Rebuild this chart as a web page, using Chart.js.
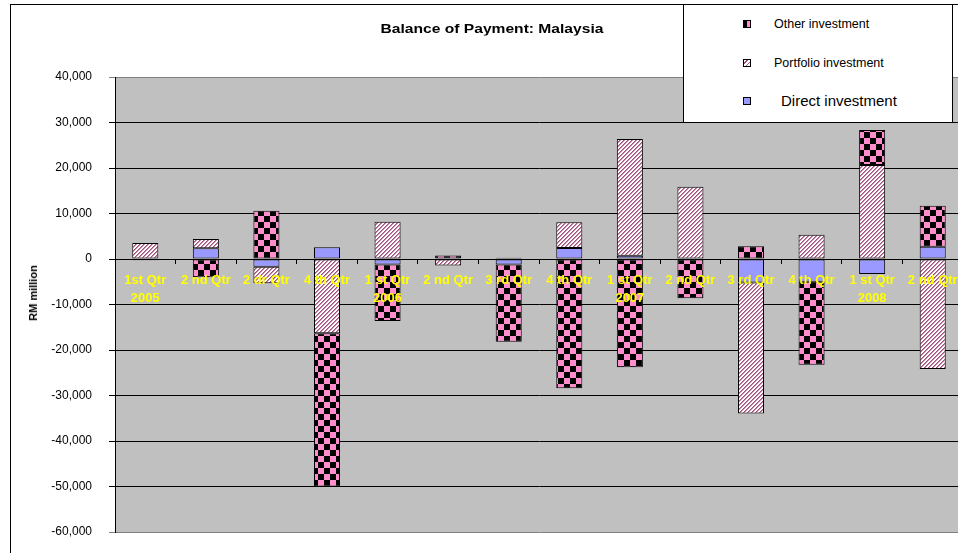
<!DOCTYPE html>
<html>
<head>
<meta charset="utf-8">
<script src="https://cdn.jsdelivr.net/npm/chart.js@4.4.1/dist/chart.umd.min.js"></script>
<style>
  html, body { margin: 0; padding: 0; background: #fff; overflow: hidden; }
  #wrap { position: relative; width: 958px; height: 553px; overflow: hidden;
          font-family: 'Liberation Sans', Arial, sans-serif; color: #000; }
  #frame { position: absolute; left: 10px; top: 4px; width: 1200px; height: 800px;
           border-left: 1px solid #000; border-top: 1px solid #000; }
  #bop { position: absolute; left: 0; top: 0; }
  #title { position: absolute; left: 492px; top: 28px; white-space: nowrap;
           transform: translate(-50%, -50%) scaleX(1.2); font-weight: bold; font-size: 13px; }
  #ytitle { position: absolute; left: 33px; top: 293px; white-space: nowrap;
            transform: translate(-50%, -50%) rotate(-90deg); font-weight: bold; font-size: 11px; }
  #legend { position: absolute; left: 683px; top: 4px; width: 270px; height: 119px;
            box-sizing: border-box; border: 1px solid #000; background: #fff; }
  .sw { position: absolute; left: 59px; width: 8px; height: 8px; box-sizing: border-box; border: 1px solid #000; }
  .lt { position: absolute; white-space: nowrap; }
</style>
</head>
<body>
<div id="wrap">
  <div id="frame"></div>
  <canvas id="bop" width="970" height="553"></canvas>
  <div id="title">Balance of Payment: Malaysia</div>
  <div id="ytitle">RM million</div>
  <div id="legend">
    <div class="sw" style="top:15px;background:linear-gradient(to right,#000 50%,#ff8fcc 50%)"></div>
    <div class="lt" style="left:90px;top:11px;font-size:12.5px;line-height:16px">Other investment</div>
    <div class="sw" style="top:54px;background:repeating-linear-gradient(135deg,#fff 0 2px,#a0507a 2px 3px)"></div>
    <div class="lt" style="left:90px;top:50px;font-size:12.5px;line-height:16px">Portfolio investment</div>
    <div class="sw" style="top:92px;background:#9999ff"></div>
    <div class="lt" style="left:97px;top:87px;font-size:15px;line-height:18px">Direct investment</div>
  </div>
</div>
<script>
/* ── Dados (RM million) ── */
const quarters = ['1st Qtr', '2 nd Qtr', '2 dr Qtr', '4 th Qtr', '1 st Qtr', '2 nd Qtr', '3 rd Qtr',
                  '4 th Qtr', '1 st Qtr', '2 nd Qtr', '3 rd Qtr', '4 th Qtr', '1 st Qtr', '2 nd Qtr'];
const years    = ['2005', '', '', '', '2006', '', '', '', '2007', '', '', '', '2008', ''];

const directInv    = [0, 2350, -1700, 2600, -1200, 0, -1200, 2400, 730, 0, -5150, -5000, -3300, 2700];
const portfolioInv = [3500, 2050, -3650, -16300, 8200, -1450, 300, 5650, 25650, 15900, -28800, 5350, 20650, -24200];
const otherInv     = [-300, -4000, 10600, -33700, -12450, 750, -17000, -28400, -23800, -8650, 2800, -18250, 7700, 9000];

const yMin = -60000, yMax = 40000, yStep = 10000;

const labels = quarters.map((q, i) => years[i] ? [q, years[i]] : q);

/* ── Padrões ── */
const canvas = document.getElementById('bop');
const ctx = canvas.getContext('2d');

function checkerPattern() {
  const t = document.createElement('canvas');
  t.width = t.height = 12;
  const g = t.getContext('2d');
  g.fillStyle = '#ff8fcc';
  g.fillRect(0, 0, 12, 12);
  g.fillStyle = '#000';
  g.fillRect(0, 0, 6, 6);
  g.fillRect(6, 6, 6, 6);
  return ctx.createPattern(t, 'repeat');
}

function hatchPattern() {
  const t = document.createElement('canvas');
  t.width = t.height = 4;
  const g = t.getContext('2d');
  g.fillStyle = '#fff';
  g.fillRect(0, 0, 4, 4);
  for (let y = 0; y < 4; y++) {
    g.fillStyle = '#a0507a';
    g.fillRect(3 - y, y, 1, 1);
    g.fillStyle = '#c88aaa';
    g.fillRect((4 - y) % 4, y, 1, 1);
  }
  return ctx.createPattern(t, 'repeat');
}

// fundo cinza da área do gráfico
const plotBg = {
  id: 'plotBg',
  beforeDraw(chart) {
    const { ctx, chartArea: a } = chart;
    ctx.save();
    ctx.fillStyle = '#c0c0c0';
    ctx.fillRect(a.left, a.top, a.right - a.left, a.bottom - a.top);
    ctx.restore();
  }
};

Chart.defaults.font.family = "'Liberation Sans', Arial, sans-serif";

const barStyle = {
  borderColor: '#000',
  borderWidth: 1,
  borderSkipped: false,
  barPercentage: 0.43,
  categoryPercentage: 1,
};

new Chart(canvas, {
  type: 'bar',
  data: {
    labels,
    datasets: [
      { label: 'Direct investment',    data: directInv,    backgroundColor: '#9999ff',        ...barStyle },
      { label: 'Portfolio investment', data: portfolioInv, backgroundColor: hatchPattern(),   ...barStyle },
      { label: 'Other investment',     data: otherInv,     backgroundColor: checkerPattern(), ...barStyle },
    ]
  },
  options: {
    responsive: false,
    animation: false,
    devicePixelRatio: 1,
    layout: { padding: { left: 10, top: 77, right: 7, bottom: 21 } },
    plugins: { legend: { display: false }, tooltip: { enabled: false } },
    scales: {
      x: {
        stacked: true,
        position: { y: 0 },
        offset: true,
        grid: { drawOnChartArea: false, drawTicks: true, tickLength: 4, color: '#000', offset: true, z: 1 },
        border: { display: true, color: '#000', z: 1 },
        ticks: {
          z: 2,
          color: '#ffff00',
          autoSkip: false,
          maxRotation: 0,
          padding: 8,
          font: { size: 13, weight: 'bold', lineHeight: 1.4 }
        }
      },
      y: {
        stacked: true,
        min: yMin,
        max: yMax,
        // largura fixa e sem folga extra em cima/embaixo
        afterFit: s => { s.width = 105; s.paddingTop = 0; s.paddingBottom = 0; },
        grid: {
          color: c => (c.tick && (c.tick.value === yMax || c.tick.value === yMin)) ? '#808080' : '#000',
          tickLength: 6
        },
        border: { color: '#000' },
        ticks: {
          stepSize: yStep,
          color: '#000',
          padding: 17,
          font: { size: 12 },
          callback: v => v.toLocaleString('en-US')
        }
      }
    }
  },
  plugins: [plotBg]
});
</script>
</body>
</html>
